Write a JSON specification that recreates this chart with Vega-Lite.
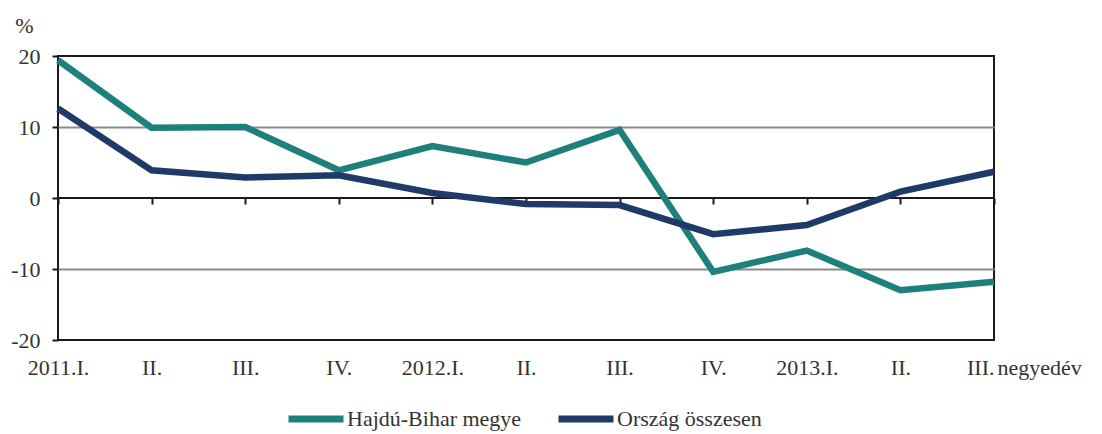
{
  "$schema": "https://vega.github.io/schema/vega-lite/v6.json",
  "width": 936,
  "height": 284,
  "autosize": "none",
  "padding": {"left": 58, "top": 56, "right": 108, "bottom": 94},
  "background": "white",
  "config": {
    "font": "Liberation Serif",
    "view": {"stroke": "#1a1a1a", "strokeWidth": 2},
    "style": {"guide-label": {"font": "Liberation Serif"}, "guide-title": {"font": "Liberation Serif"}},
    "legend": {"labelFont": "Liberation Serif"}
  },
  "data": {
    "values": [
      {"q": "2011.I.", "s": "Hajdú-Bihar megye", "v": 19.4},
      {"q": "2011.II.", "s": "Hajdú-Bihar megye", "v": 9.9},
      {"q": "2011.III.", "s": "Hajdú-Bihar megye", "v": 10.0},
      {"q": "2011.IV.", "s": "Hajdú-Bihar megye", "v": 3.9},
      {"q": "2012.I.", "s": "Hajdú-Bihar megye", "v": 7.3},
      {"q": "2012.II.", "s": "Hajdú-Bihar megye", "v": 5.0},
      {"q": "2012.III.", "s": "Hajdú-Bihar megye", "v": 9.6},
      {"q": "2012.IV.", "s": "Hajdú-Bihar megye", "v": -10.4},
      {"q": "2013.I.", "s": "Hajdú-Bihar megye", "v": -7.4},
      {"q": "2013.II.", "s": "Hajdú-Bihar megye", "v": -13.0},
      {"q": "2013.III.", "s": "Hajdú-Bihar megye", "v": -11.8},
      {"q": "2011.I.", "s": "Ország összesen", "v": 12.6},
      {"q": "2011.II.", "s": "Ország összesen", "v": 3.9},
      {"q": "2011.III.", "s": "Ország összesen", "v": 2.9},
      {"q": "2011.IV.", "s": "Ország összesen", "v": 3.2},
      {"q": "2012.I.", "s": "Ország összesen", "v": 0.7},
      {"q": "2012.II.", "s": "Ország összesen", "v": -0.85},
      {"q": "2012.III.", "s": "Ország összesen", "v": -1.0},
      {"q": "2012.IV.", "s": "Ország összesen", "v": -5.1},
      {"q": "2013.I.", "s": "Ország összesen", "v": -3.8},
      {"q": "2013.II.", "s": "Ország összesen", "v": 0.9},
      {"q": "2013.III.", "s": "Ország összesen", "v": 3.7}
    ]
  },
  "resolve": {"axis": {"x": "independent"}},
  "layer": [
    {
      "mark": {"type": "point", "opacity": 0},
      "encoding": {
        "x": {
          "field": "q", "type": "ordinal", "sort": null,
          "scale": {"type": "point", "padding": 0},
          "axis": {
            "orient": "bottom", "offset": -142, "labels": false, "domain": false,
            "ticks": true, "tickSize": 6, "tickWidth": 2, "tickColor": "#1a1a1a",
            "grid": false, "title": null
          }
        },
        "y": {"field": "v", "type": "quantitative"}
      }
    },
    {
      "mark": {"type": "rule", "color": "#1a1a1a", "strokeWidth": 2},
      "encoding": {
        "y": {"datum": 0, "type": "quantitative"}
      }
    },
    {
      "mark": {"type": "line", "strokeWidth": 6.5, "strokeJoin": "miter", "strokeCap": "butt"},
      "encoding": {
        "x": {
          "field": "q", "type": "ordinal", "sort": null,
          "scale": {"type": "point", "padding": 0},
          "axis": {
            "orient": "bottom", "domain": false, "ticks": false, "grid": false,
            "labelAngle": 0, "labelFontSize": 22, "labelColor": "#333333",
            "labelFont": "Liberation Serif",
            "labelPadding": 17, "labelBaseline": "top",
            "labelExpr": "indexof(['2011.I.','2012.I.','2013.I.'], datum.value) >= 0 ? datum.value : slice(datum.value, 5)",
            "labelAlign": {"expr": "datum.value == '2013.III.' ? 'right' : 'center'"},
            "title": "negyedév", "titleFontSize": 22, "titleFontWeight": "normal",
            "titleFont": "Liberation Serif",
            "titleColor": "#333333", "titleAlign": "left", "titleBaseline": "top",
            "titleAnchor": "start", "titleX": 939, "titleY": 17
          }
        },
        "y": {
          "field": "v", "type": "quantitative",
          "scale": {"domain": [-20, 20], "nice": false, "zero": false},
          "axis": {
            "values": [-20, -10, 0, 10, 20], "domain": false,
            "labelExpr": "toString(datum.value)",
            "labelFont": "Liberation Serif",
            "ticks": true, "tickSize": 6, "tickWidth": 2, "tickColor": "#1a1a1a",
            "labelFontSize": 22, "labelColor": "#333333", "labelPadding": 12,
            "grid": true, "gridWidth": 2,
            "gridColor": {"condition": {"test": "datum.value == 10 || datum.value == -10", "value": "#8a8a8a"}, "value": "rgba(0,0,0,0)"},
            "title": "%", "titleAngle": 0, "titleFontSize": 22, "titleFontWeight": "normal",
            "titleFont": "Liberation Serif",
            "titleColor": "#333333", "titleAlign": "center", "titleBaseline": "middle",
            "titleX": -34, "titleY": -31
          }
        },
        "color": {
          "field": "s", "type": "nominal",
          "scale": {"domain": ["Hajdú-Bihar megye", "Ország összesen"], "range": ["#1e807a", "#1f3a68"]},
          "legend": {
            "title": null, "orient": "none", "direction": "horizontal",
            "legendX": 227, "legendY": 332,
            "symbolType": "stroke", "symbolSize": 3025, "symbolStrokeWidth": 7,
            "labelFont": "Liberation Serif",
            "labelFontSize": 22, "labelColor": "#333333", "labelOffset": 0,
            "labelLimit": 0, "columnPadding": 22
          }
        }
      }
    }
  ]
}
